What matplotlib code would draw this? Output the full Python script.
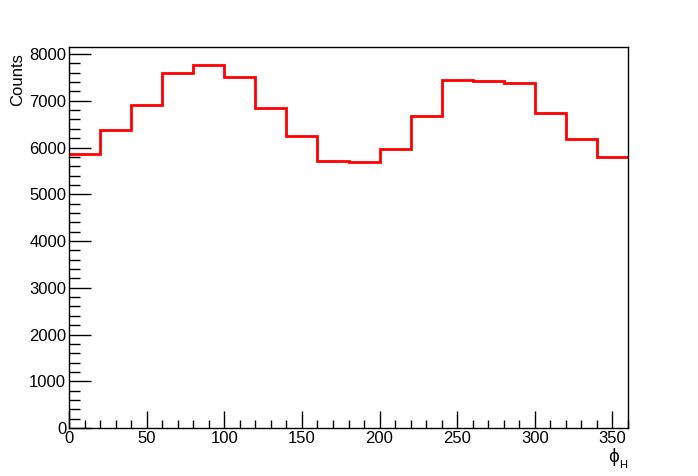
import numpy as np
import matplotlib

matplotlib.use("Agg")
import matplotlib.pyplot as plt
from matplotlib.ticker import MultipleLocator

# phi_H histogram, 18 bins of 20 deg
bin_edges = np.arange(0, 361, 20)
counts = [5863, 6378, 6914, 7601, 7773, 7515, 6850, 6249, 5712,
          5691, 5970, 6678, 7444, 7423, 7386, 6742, 6185, 5798]

plt.rcParams["font.family"] = ["Liberation Sans", "DejaVu Sans"]

fig = plt.figure(figsize=(6.98, 4.76), dpi=100)
ax = fig.add_axes([69 / 698, 1 - 428 / 476, (628 - 69) / 698, (428 - 47) / 476])

ax.stairs(counts, bin_edges, color="red", lw=2, baseline=None)

ax.set_xlim(0, 360)
ax.set_ylim(0, 8150)
ax.xaxis.set_major_locator(MultipleLocator(50))
ax.xaxis.set_minor_locator(MultipleLocator(10))
ax.yaxis.set_major_locator(MultipleLocator(1000))
ax.yaxis.set_minor_locator(MultipleLocator(200))
ax.tick_params(which="both", direction="in", top=False, right=False, labelsize=12)
ax.tick_params(which="major", length=12, width=1)
ax.tick_params(which="minor", length=6, width=1)
ax.tick_params(axis="y", which="major", length=16, pad=2)
ax.tick_params(axis="y", which="minor", length=8)
ax.tick_params(axis="x", which="major", pad=2)
for s in ax.spines.values():
    s.set_linewidth(1)

ax.set_ylabel("Counts", fontsize=12)
ax.yaxis.set_label_coords(-0.078, 0.985, transform=ax.transAxes)
ax.yaxis.label.set_ha("right")
ax.text(0.984, -0.053, "ϕ", transform=ax.transAxes, ha="right", va="top", fontsize=12,
        family="DejaVu Sans")
ax.text(0.998, -0.085, "H", transform=ax.transAxes, ha="right", va="top", fontsize=8)

fig.savefig("out.png", dpi=100)
